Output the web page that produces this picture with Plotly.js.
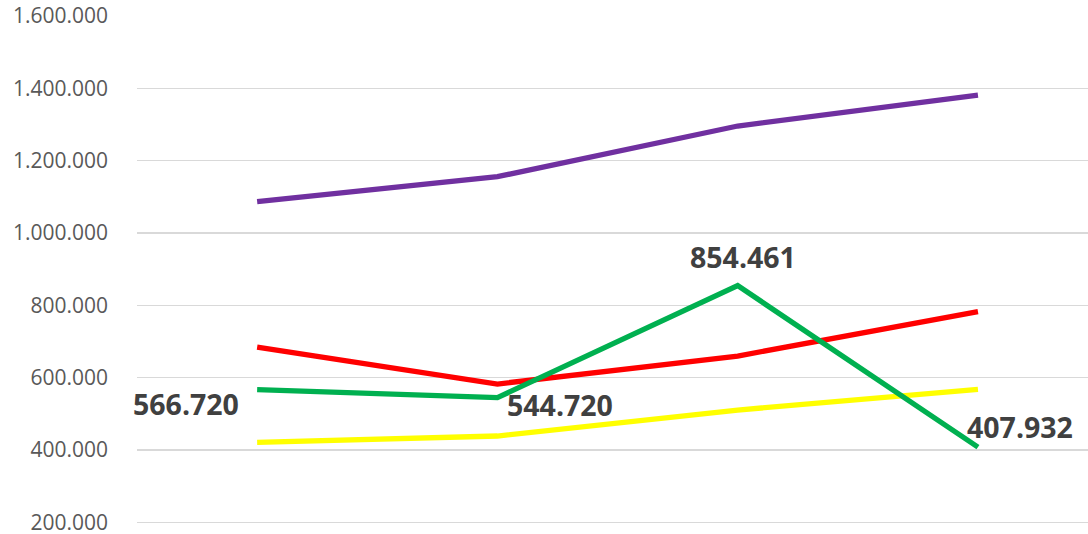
<!DOCTYPE html>
<html><head><meta charset="utf-8">
<script src="https://cdn.plot.ly/plotly-3.0.1.min.js"></script>
<style>html,body{margin:0;padding:0;background:#fff;overflow:hidden}#wrap{width:1088px;height:534px;overflow:hidden}</style>
</head><body><div id="wrap"><div id="chart" style="width:1088px;height:560px"></div></div>
<script>
const categories = [0, 1, 2, 3];
const purple = [1086500, 1155600, 1295800, 1381500];
const red = [684700, 582400, 659800, 782300];
const green = [566720, 544720, 854461, 407932];
const yellow = [421200, 438600, 510500, 567700];
const greenLabels = ["566.720", "544.720", "854.461", "407.932"];
const tickVals = [200000, 400000, 600000, 800000, 1000000, 1200000, 1400000, 1600000];

const mk = (y, color) => ({x: categories, y: y, type: 'scatter', mode: 'lines',
  line: {color: color, width: 5.3}, hoverinfo: 'skip'});
const data = [mk(yellow, '#FFFF00'), mk(red, '#FF0000'), mk(purple, '#7030A0'), mk(green, '#00B050')];

const shifts = [[-71, -14], [63, -7], [5, 29], [42, 20]];
const annotations = greenLabels.map((t, i) => ({
  x: categories[i], y: green[i], text: t, showarrow: false,
  xanchor: 'center', yanchor: 'middle', xshift: shifts[i][0], yshift: shifts[i][1],
  font: {family: 'Open Sans', size: 28.5, color: '#404040', weight: 'bold'}
}));

const layout = {
  width: 1088, height: 560,
  margin: {l: 137, r: 0, t: 15, b: 34},
  paper_bgcolor: '#fff', plot_bgcolor: '#fff',
  separators: ',.',
  showlegend: false,
  xaxis: {range: [-0.5, 3.458], showgrid: false, zeroline: false, showticklabels: false, showline: false, fixedrange: true},
  yaxis: {range: [189770, 1602765], tickvals: tickVals, tickformat: ',d', showgrid: true,
    gridcolor: '#d9d9d9', gridwidth: 1.5, zeroline: false, showline: false,
    ticklabelstandoff: 28,
    tickfont: {family: 'Open Sans', size: 21, color: '#595959'}},
  annotations: annotations
};
Plotly.newPlot('chart', data, layout, {displayModeBar: false, staticPlot: true});
</script></body></html>
